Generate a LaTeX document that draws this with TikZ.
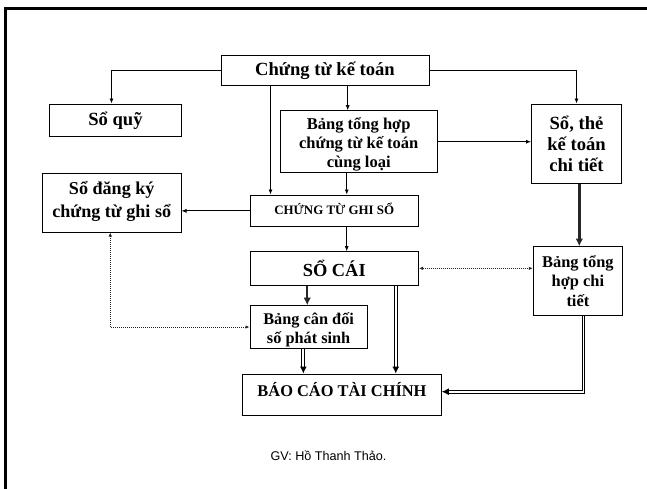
\documentclass[tikz,border=0pt]{standalone}
\usepackage{fontspec}
\setmainfont{Liberation Serif}
\newfontfamily\footfont{Liberation Sans}
\usetikzlibrary{arrows.meta}
\newcommand\fsz[2]{\fontsize{#1}{#2}\selectfont\bfseries}

\begin{document}
\begin{tikzpicture}[x=1pt,y=-1pt,
  box/.style={draw, line width=1pt, inner sep=0pt, fill=white},
  lbl/.style={align=center, inner sep=0pt},
  arr/.style={line width=0.8pt, -{Latex[length=5pt,width=4pt]}},
  thickarr/.style={line width=2.4pt, draw=black!85, -{Latex[length=7.5pt,width=7.5pt]}},
  dblarr/.style={double, double distance=1.8pt, line width=1pt, -{Latex[length=7pt,width=7pt]}},
  dotarr/.style={line width=0.9pt, draw=black!85, dash pattern=on 1pt off 1pt,
    {Latex[length=4pt,width=3.5pt]}-{Latex[length=4pt,width=3.5pt]}}]

\useasboundingbox (0,0) rectangle (647,488);

% page frame
\draw[line width=3pt, line cap=butt, line join=miter] (5.5,500) -- (5.5,8.5) -- (660,8.5);

% boxes
\node[box, minimum width=208pt, minimum height=30pt]   (ctkt)  at (325,70.5) {};
\node[box, minimum width=132pt, minimum height=32.5pt] (soquy) at (115.5,120.25) {};
\node[box, minimum width=157.5pt, minimum height=62pt] (bth)   at (358.75,141.7) {};
\node[box, minimum width=90pt, minimum height=79.5pt]  (sothe) at (576.5,143.75) {};
\node[box, minimum width=138.5pt, minimum height=58.5pt] (sdk) at (111.75,202.75) {};
\node[box, minimum width=168.5pt, minimum height=31.7pt] (ctgs) at (334.25,210.85) {};
\node[box, minimum width=168.5pt, minimum height=33.3pt] (socai) at (334.25,268.35) {};
\node[box, minimum width=89.2pt, minimum height=68.6pt] (bthct) at (577.9,281) {};
\node[box, minimum width=117.3pt, minimum height=42.6pt] (bcd)  at (308.65,327) {};
\node[box, minimum width=198.7pt, minimum height=41pt]  (bctc) at (342,394.5) {};

% box texts
\node[lbl, font=\fsz{18.6}{21}] (ctkt-t)  at (ctkt) {Chứng từ kế toán};
\node[lbl, font=\fsz{18.6}{21}] (soquy-t) at (soquy) {Sổ quỹ};
\node[lbl, font=\fsz{16.5}{19}] (bth-t)   at ([yshift=-3pt]bth.center) {Bảng tổng hợp\\chứng từ kế toán\\cùng loại};
\node[lbl, font=\fsz{18.6}{21}] (sothe-t) at (sothe) {Sổ, thẻ\\kế toán\\chi tiết};
\node[lbl, font=\fsz{18.1}{23.5}] (sdk-t) at ([yshift=1.5pt]sdk.center) {Sổ đăng ký\\chứng từ ghi sổ};
\node[lbl, font=\fsz{12.9}{15}] (ctgs-t)  at ([yshift=2.5pt]ctgs.center) {CHỨNG TỪ GHI SỔ};
\node[lbl, font=\fsz{18.4}{21}] (socai-t) at (socai) {SỔ CÁI};
\node[lbl, font=\fsz{16.4}{19.5}] (bthct-t) at (bthct) {Bảng tổng\\hợp chi\\tiết};
\node[lbl, font=\fsz{16.3}{19.3}] (bcd-t) at ([yshift=-2.5pt]bcd.center) {Bảng cân đối\\số phát sinh};
\node[lbl, font=\fsz{16.4}{19}] (bctc-t) at ([yshift=4.5pt]bctc.center) {BÁO CÁO TÀI CHÍNH};

% footer
\node[inner sep=0pt, font=\footfont\fontsize{12.6}{14}\selectfont] (gv) at (328.5,455.7) {GV: Hồ Thanh Thảo.};

% connectors
\draw[arr] (ctkt.west) -| ([xshift=-4pt]soquy.north);
\draw[arr] (ctkt.east) -| (sothe.north);
\draw[arr] ([xshift=22.7pt]ctkt.south) -- ([xshift=22.7pt]ctkt.south |- bth.north);
\draw[arr] ([xshift=-54.5pt]ctkt.south) -- ([xshift=-54.5pt]ctkt.south |- ctgs.north);
\draw[arr] ([xshift=-12pt]bth.south) -- ([xshift=-12pt]bth.south |- ctgs.north);
\draw[arr] (bth.east) -- (bth.east -| sothe.west);
\draw[arr] (ctgs.west) -- (ctgs.west -| sdk.east);
\draw[arr] ([xshift=12.45pt]ctgs.south) -- ([xshift=12.45pt]ctgs.south |- socai.north);
\draw[thickarr] ([xshift=2.8pt]sothe.south) -- ([xshift=2.8pt]sothe.south |- bthct.north);
\draw[dotarr] (socai.east) -- (socai.east -| bthct.west);
\draw[thickarr] ([xshift=-27pt]socai.south) -- ([xshift=-27pt]socai.south |- bcd.north);
\draw[dblarr] ([xshift=61.5pt]socai.south) -- ([xshift=61.5pt]socai.south |- bctc.north);
\draw[dblarr] ([xshift=-5.3pt]bcd.south) -- ([xshift=-5.3pt]bcd.south |- bctc.north);
\coordinate (bthct-out) at ([xshift=5.6pt]bthct.south);
\coordinate (bctc-in) at ([yshift=2.8pt]bctc.east);
\draw[dblarr] (bthct-out) |- (bctc-in);
\draw[dotarr] (bcd.west) -| ([xshift=-1.5pt]sdk.south);

\end{tikzpicture}
\end{document}
